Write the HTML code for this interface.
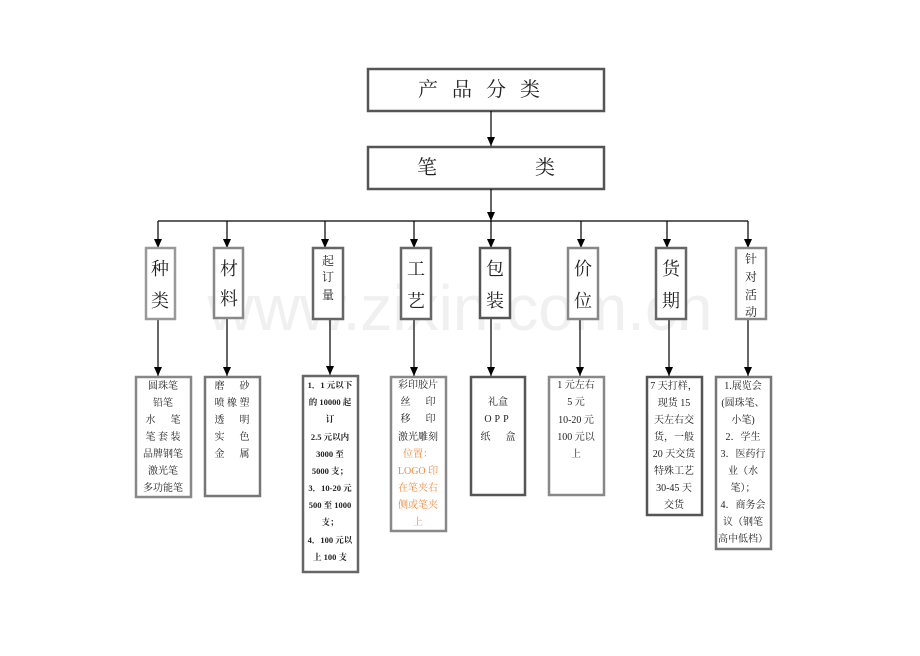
<!DOCTYPE html>
<html><head><meta charset="utf-8"><style>
body{margin:0;background:#fff;width:920px;height:651px;overflow:hidden}
svg text{font-family:"Liberation Serif","Noto Serif CJK SC",serif;fill:#222}
</style></head><body>
<svg width="920" height="651" viewBox="0 0 920 651">
<defs><marker id="a" markerWidth="9" markerHeight="8" refX="9" refY="4" orient="auto" markerUnits="userSpaceOnUse"><path d="M0,0 L9,4 L0,8z" fill="#000"/></marker></defs>
<text x="460" y="330" text-anchor="middle" style="font-family:'Liberation Sans',sans-serif;font-size:64px;fill:#f0f0f0">www.zixin.com.cn</text>
<g fill="none" stroke-width="2.5">
<rect x="368" y="69" width="236" height="42" stroke="#555"/>
<rect x="368" y="147" width="236" height="42" stroke="#555"/>
</g>
<text x="486" y="96" text-anchor="middle" font-size="20" letter-spacing="14">产品分类</text>
<text x="427" y="174" text-anchor="middle" font-size="20">笔</text>
<text x="545" y="174" text-anchor="middle" font-size="20">类</text>
<g stroke="#000" stroke-width="1.2" fill="none">
<line x1="491" y1="111" x2="491" y2="146" marker-end="url(#a)"/>
<line x1="491" y1="189" x2="491" y2="221" marker-end="url(#a)"/>
<line x1="158" y1="221" x2="748" y2="221"/>
<line x1="158" y1="221" x2="158" y2="248" marker-end="url(#a)"/>
<line x1="227" y1="221" x2="227" y2="248" marker-end="url(#a)"/>
<line x1="325" y1="221" x2="325" y2="248" marker-end="url(#a)"/>
<line x1="414" y1="221" x2="414" y2="248" marker-end="url(#a)"/>
<line x1="491" y1="221" x2="491" y2="248" marker-end="url(#a)"/>
<line x1="581" y1="221" x2="581" y2="248" marker-end="url(#a)"/>
<line x1="667" y1="221" x2="667" y2="248" marker-end="url(#a)"/>
<line x1="748" y1="221" x2="748" y2="248" marker-end="url(#a)"/>
<line x1="158" y1="319" x2="158" y2="376" marker-end="url(#a)"/>
<line x1="227" y1="319" x2="227" y2="376" marker-end="url(#a)"/>
<line x1="330" y1="319" x2="330" y2="375" marker-end="url(#a)"/>
<line x1="414" y1="319" x2="414" y2="376" marker-end="url(#a)"/>
<line x1="491" y1="319" x2="491" y2="376" marker-end="url(#a)"/>
<line x1="580" y1="319" x2="580" y2="376" marker-end="url(#a)"/>
<line x1="669" y1="319" x2="669" y2="376" marker-end="url(#a)"/>
<line x1="748" y1="319" x2="748" y2="376" marker-end="url(#a)"/>
</g>
<g fill="#fff" stroke-width="2.5">
<rect x="146" y="248" width="29" height="71" stroke="#999"/>
<rect x="214" y="248" width="29" height="70" stroke="#888"/>
<rect x="313" y="248" width="30" height="71" stroke="#666"/>
<rect x="401" y="248" width="30" height="71" stroke="#666"/>
<rect x="480" y="248" width="30" height="70" stroke="#555"/>
<rect x="568" y="248" width="30" height="71" stroke="#888"/>
<rect x="656" y="248" width="30" height="71" stroke="#666"/>
<rect x="736" y="248" width="30" height="71" stroke="#888"/>
<rect x="136" y="377" width="55" height="120" stroke="#888"/>
<rect x="205" y="377" width="55" height="119" stroke="#777"/>
<rect x="303" y="376" width="55" height="196" stroke="#666"/>
<rect x="391" y="377" width="55" height="154" stroke="#888"/>
<rect x="471" y="377" width="54" height="118" stroke="#555"/>
<rect x="549" y="377" width="55" height="118" stroke="#888"/>
<rect x="647" y="377" width="55" height="138" stroke="#555"/>
<rect x="716" y="377" width="55" height="172" stroke="#777"/>
</g>
<g font-size="18" text-anchor="middle">
<text x="160" y="275">种</text><text x="160" y="307">类</text>
<text x="229" y="275">材</text><text x="229" y="305">料</text>
<text x="416" y="275">工</text><text x="416" y="307">艺</text>
<text x="495" y="275">包</text><text x="495" y="307">装</text>
<text x="583" y="275">价</text><text x="583" y="307">位</text>
<text x="671" y="275">货</text><text x="671" y="307">期</text>
</g>
<g font-size="12" text-anchor="middle">
<text x="328" y="265">起</text><text x="328" y="281">订</text><text x="328" y="299">量</text>
<text x="751" y="263">针</text><text x="751" y="281">对</text><text x="751" y="299">活</text><text x="751" y="316">动</text>
</g>
<g font-size="10" text-anchor="middle">
<text x="163" y="389">圆珠笔</text><text x="163" y="406">铅笔</text>
<text x="163" y="423" xml:space="preserve">水      笔</text><text x="163" y="440" xml:space="preserve">笔 套 装</text>
<text x="163" y="457">品牌钢笔</text><text x="163" y="474">激光笔</text><text x="163" y="491">多功能笔</text>
<text x="232" y="389" xml:space="preserve">磨      砂</text><text x="232" y="406" xml:space="preserve">喷 橡 塑</text>
<text x="232" y="423" xml:space="preserve">透      明</text><text x="232" y="440" xml:space="preserve">实      色</text>
<text x="232" y="457" xml:space="preserve">金      属</text>
<g font-weight="bold" font-size="8.5">
<text x="330" y="388">1．1 元以下</text><text x="330" y="405">的 10000 起</text><text x="330" y="422">订</text>
<text x="330" y="440">2.5 元以内</text><text x="330" y="457">3000 至</text><text x="330" y="474">5000 支；</text>
<text x="330" y="491">3．10-20 元</text><text x="330" y="508">500 至 1000</text><text x="330" y="525">支；</text>
<text x="330" y="543">4．100 元以</text><text x="330" y="560">上 100 支</text>
</g>
<text x="418" y="388">彩印胶片</text><text x="418" y="405" xml:space="preserve">丝      印</text>
<text x="418" y="422" xml:space="preserve">移      印</text><text x="418" y="440">激光雕刻</text>
<text x="418" y="457" style="fill:#f08a3c">位置：</text><text x="418" y="474" style="fill:#f08a3c">LOGO 印</text>
<text x="418" y="491" style="fill:#f08a3c">在笔夹右</text><text x="418" y="508" style="fill:#f08a3c">侧或笔夹</text><text x="418" y="525" style="fill:#f08a3c">上</text>
<text x="498" y="405">礼盒</text><text x="498" y="422" letter-spacing="3">OPP</text>
<text x="498" y="440" xml:space="preserve">纸      盒</text>
<text x="576" y="388">1 元左右</text><text x="576" y="405">5 元</text><text x="576" y="423">10-20 元</text>
<text x="576" y="440">100 元以</text><text x="576" y="457">上</text>
<text x="674" y="389">7 天打样，</text><text x="674" y="406">现货 15</text><text x="674" y="423">天左右交</text>
<text x="674" y="440">货，一般</text><text x="674" y="457">20 天交货</text><text x="674" y="474">特殊工艺</text>
<text x="674" y="491">30-45 天</text><text x="674" y="508">交货</text>
<text x="743" y="389">1.展览会</text><text x="743" y="406">(圆珠笔、</text><text x="743" y="423">小笔)</text>
<text x="743" y="440">2．学生</text><text x="743" y="457">3．医药行</text><text x="743" y="474">业（水</text>
<text x="743" y="491">笔）；</text><text x="743" y="508">4．商务会</text><text x="743" y="525">议（钢笔</text><text x="743" y="542">高中低档）</text>
</g>
</svg>
</body></html>
